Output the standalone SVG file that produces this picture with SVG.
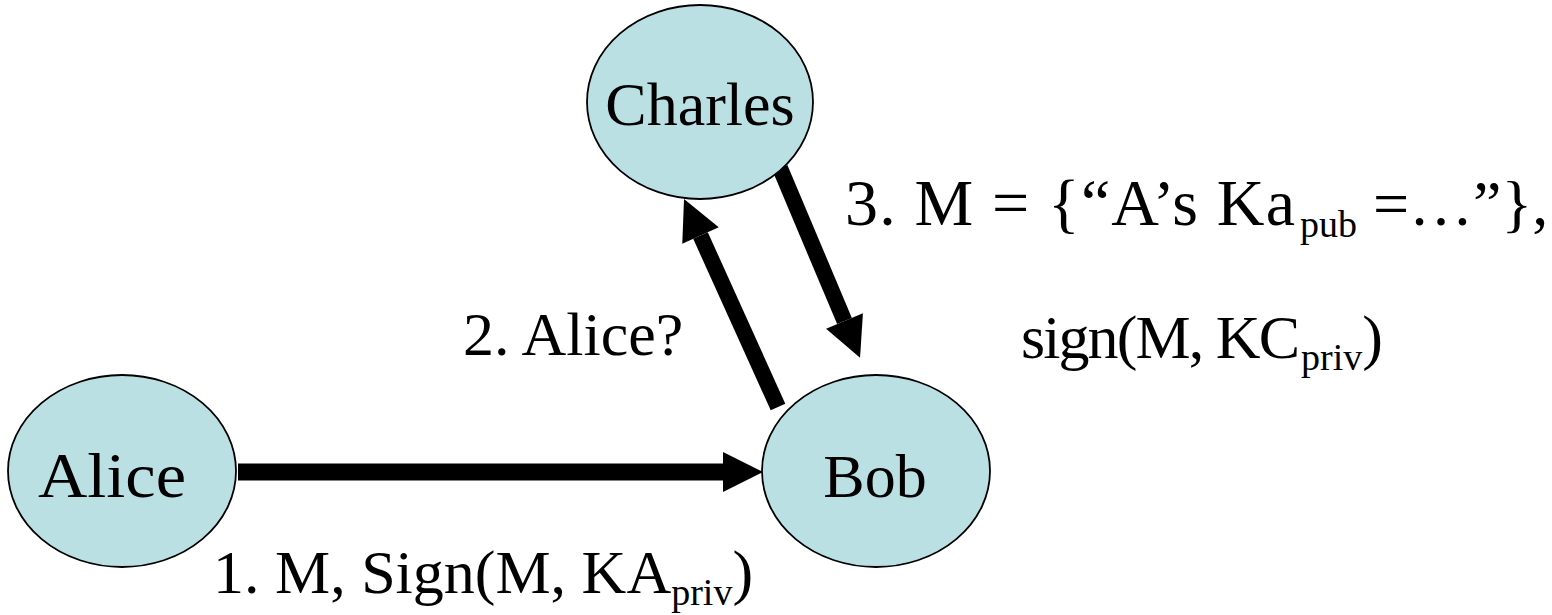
<svg xmlns="http://www.w3.org/2000/svg" width="1552" height="615" viewBox="0 0 1552 615">
<style>
.node ellipse{fill:#BBE0E3;stroke:#000;stroke-width:1.8}
text{font-family:"Liberation Serif","Times New Roman",serif;font-size:62px;fill:#000}
.ntext{text-anchor:middle}
.sub{font-size:38px}
.conn line{stroke:#000;stroke-width:16;fill:none}
</style>
<defs>
<marker id="ah" markerUnits="userSpaceOnUse" markerWidth="42" markerHeight="42" refX="0" refY="20" orient="auto" overflow="visible">
<path d="M0,0 L40,20 L0,40 Z" fill="#000"/>
</marker>
</defs>
<g id="connectors" class="conn">
<line x1="238" y1="472" x2="723" y2="472" style="stroke-width:17" marker-end="url(#ah)"/>
<line x1="778" y1="407" x2="700.5" y2="235.5" marker-end="url(#ah)"/>
<line x1="780" y1="168" x2="844.5" y2="321" marker-end="url(#ah)"/>
</g>
<g id="alice" class="node">
<ellipse cx="122" cy="471" rx="114" ry="96"/>
<text x="38" y="497" style="font-size:63px" textLength="148" lengthAdjust="spacingAndGlyphs">Alice</text>
</g>
<g id="bob" class="node">
<ellipse cx="876" cy="471" rx="114" ry="96"/>
<text class="ntext" x="875" y="497">Bob</text>
</g>
<g id="charles" class="node">
<ellipse cx="700" cy="102" rx="113" ry="97"/>
<text class="ntext" x="700" y="125">Charles</text>
</g>
<g id="labels">
<text x="213" y="593">1. M, Sign(M, KA<tspan class="sub" dy="12">priv</tspan><tspan dy="-12">)</tspan></text>
<text x="463" y="355">2. Alice?</text>
<text y="225"><tspan x="845" style="font-size:66px" textLength="450">3. M = {“A’s Ka</tspan><tspan class="sub" x="1300" dy="12">pub</tspan><tspan x="1357" dy="-12" style="font-size:64px"> =…”},</tspan></text>
<text y="358"><tspan x="1021" textLength="279">sign(M, KC</tspan><tspan class="sub" x="1301" dy="12">priv</tspan><tspan dy="-12">)</tspan></text>
</g>
</svg>
